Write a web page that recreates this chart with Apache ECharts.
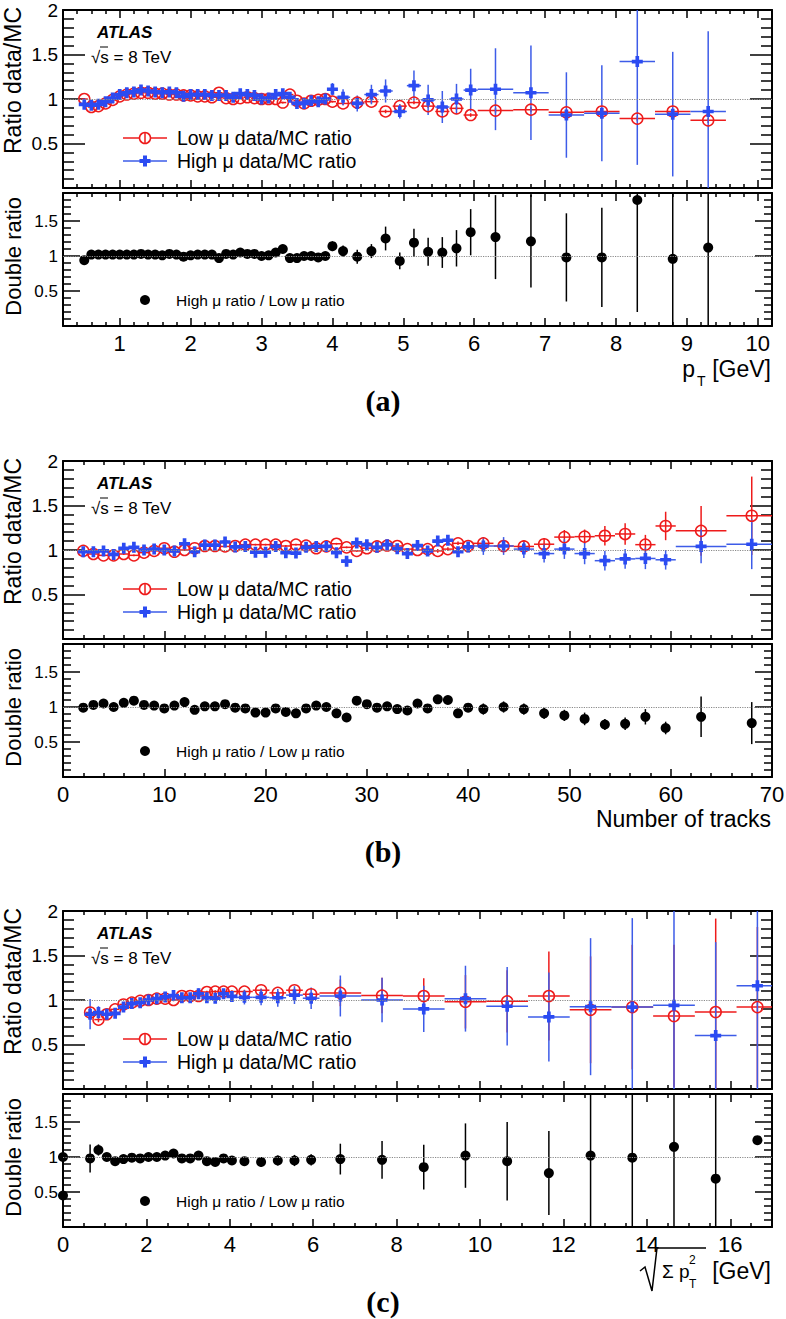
<!DOCTYPE html>
<html><head><meta charset="utf-8">
<script src="https://cdn.jsdelivr.net/npm/echarts@6/dist/echarts.min.js"></script>
<style>html,body{margin:0;padding:0;background:#fff}#c{width:786px;height:1319px}</style>
</head><body><div id="c"></div>
<script>
// ================= DATA =================
// ---- panel (a): pT ----
const aX = [0.5,0.6,0.7,0.8,0.9,1.0,1.1,1.2,1.3,1.4,1.5,1.6,1.7,1.8,1.9,2.0,2.1,2.2,2.3,2.4,2.5,2.6,2.7,2.8,2.9,3.0,3.1,3.2,3.3,3.4,3.5,3.6,3.7,3.8,3.9,4.0,
  4.15,4.35,4.55,4.75,4.95,5.15,5.35,5.55,5.75,5.95, 6.3,6.8,7.3,7.8,8.3,8.8,9.3];
const aXErr = [0.05,0.05,0.05,0.05,0.05,0.05,0.05,0.05,0.05,0.05,0.05,0.05,0.05,0.05,0.05,0.05,0.05,0.05,0.05,0.05,0.05,0.05,0.05,0.05,0.05,0.05,0.05,0.05,0.05,0.05,0.05,0.05,0.05,0.05,0.05,0.05,
  0.1,0.1,0.1,0.1,0.1,0.1,0.1,0.1,0.1,0.1, 0.25,0.25,0.25,0.25,0.25,0.25,0.25];
const aLow = [1.00,0.91,0.92,0.95,0.99,1.03,1.05,1.06,1.07,1.07,1.06,1.06,1.05,1.05,1.04,1.04,1.03,1.03,1.02,1.07,1.01,1.00,1.01,1.02,1.01,1.00,1.00,1.00,0.96,1.05,0.98,0.95,0.98,0.99,1.00,0.97,
  0.95,0.96,0.97,0.86,0.92,0.96,0.92,0.86,0.895,0.82, 0.87,0.88,0.85,0.86,0.78,0.86,0.76];
const aLowErr = [0.01,0.01,0.01,0.01,0.01,0.01,0.01,0.01,0.01,0.01,0.01,0.01,0.01,0.01,0.01,0.01,0.01,0.01,0.01,0.01,0.01,0.01,0.01,0.01,0.01,0.01,0.01,0.01,0.01,0.01,0.01,0.01,0.01,0.01,0.01,0.01,
  0.02,0.02,0.02,0.02,0.02,0.02,0.02,0.02,0.02,0.02, 0.03,0.03,0.03,0.03,0.03,0.03,0.03];
const aHigh = [0.94,0.93,0.94,0.97,1.01,1.05,1.07,1.08,1.10,1.09,1.08,1.07,1.08,1.07,1.03,1.05,1.05,1.05,1.04,1.04,1.04,1.02,1.06,1.05,1.04,1.00,1.01,1.05,1.06,1.02,0.95,0.95,0.98,0.97,1.00,1.11,
  1.02,0.95,1.05,1.09,0.86,1.15,0.99,0.91,1.00,1.10, 1.11,1.07,0.82,0.84,1.42,0.83,0.86];
const aHighErr = [0.015,0.015,0.015,0.015,0.015,0.015,0.015,0.015,0.015,0.015,0.015,0.015,0.015,0.015,0.015,0.015,0.015,0.015,0.015,0.015,0.015,0.015,0.015,0.015,0.015,0.015,
  0.03,0.03,0.03,0.03,0.03,0.03,0.03,0.03,0.03,0.07,
  0.09,0.09,0.11,0.13,0.08,0.17,0.17,0.18,0.17,0.24, 0.46,0.53,0.48,0.54,1.16,0.70,0.90];
const aDR = [0.94,1.02,1.02,1.02,1.02,1.02, 1.02,1.02,1.03,1.02,1.02,1.01,1.03,1.02,0.99,1.01, 1.02,1.02,1.02,0.97,1.03,1.02,1.05,1.03,1.03,1.00, 1.01,1.05,1.10,0.97,0.97,1.00,1.00,0.98,1.00,1.14,
  1.07,0.99,1.07,1.25,0.93,1.19,1.06,1.05,1.11,1.34, 1.27,1.21,0.98,0.98,1.80,0.96,1.12];
const aDRErr = [0.01,0.01,0.01,0.01,0.01,0.01,0.01,0.01,0.01,0.01,0.01,0.01,0.01,0.01,0.01,0.01,0.01,0.01,0.01,0.01,0.01,0.01,0.01,0.01,0.01,0.01,0.01,0.01,0.01,0.01,0.01,0.01,0.01,0.01,0.01,0.07,
  0.08,0.10,0.10,0.17,0.12,0.20,0.20,0.22,0.26,0.33, 0.60,0.66,0.63,0.71,1.60,1.00,1.20];

// ---- panel (b): number of tracks ----
const bX = [2,3,4,5,6,7,8,9,10,11,12,13,14,15,16,17,18,19,20,21,22,23,24,25,26,27,28,29,30,31,32,33,34,35,36,37,38,39,40,
  41.5,43.5,45.5,47.5,49.5,51.5,53.5,55.5,57.5,59.5,63,68];
const bXErr = [0.5,0.5,0.5,0.5,0.5,0.5,0.5,0.5,0.5,0.5,0.5,0.5,0.5,0.5,0.5,0.5,0.5,0.5,0.5,0.5,0.5,0.5,0.5,0.5,0.5,0.5,0.5,0.5,0.5,0.5,0.5,0.5,0.5,0.5,0.5,0.5,0.5,0.5,0.5,
  1,1,1,1,1,1,1,1,1,1,2.5,2.5];
const bLow = [0.99,0.955,0.94,0.94,0.955,0.94,0.97,0.99,1.02,0.98,1.0,1.02,1.045,1.045,1.04,1.045,1.06,1.06,1.06,1.06,1.045,1.06,1.05,1.02,1.04,1.07,1.03,0.99,1.02,1.04,1.05,1.045,1.01,1.0,1.01,0.99,1.01,1.075,1.045,
  1.075,1.045,1.04,1.065,1.145,1.15,1.16,1.18,1.06,1.27,1.215,1.385];
const bLowErr = [0.01,0.01,0.01,0.01,0.01,0.01,0.01,0.01,0.01,0.01,0.01,0.01,0.01,0.01,0.01,0.01,0.01,0.01,0.01,0.01,0.01,0.01,0.01,0.01,0.01,0.01,0.01,0.01,0.01,0.01,0.01,0.01,0.01,0.01,0.01,0.02,0.02,0.02,0.02,
  0.05,0.05,0.05,0.07,0.08,0.08,0.11,0.12,0.11,0.16,0.28,0.44];
const bHigh = [0.98,0.98,0.99,0.95,1.02,1.03,1.0,1.01,1.0,0.99,1.07,0.98,1.055,1.055,1.09,1.035,1.04,0.975,0.975,1.04,0.97,0.965,1.03,1.04,1.04,0.97,0.875,1.08,1.06,1.03,1.06,1.015,0.96,1.05,0.99,1.1,1.11,0.98,1.035,
  1.045,1.045,1.01,0.96,1.01,0.96,0.88,0.9,0.905,0.89,1.04,1.065];
const bHighErr = [0.02,0.02,0.02,0.02,0.02,0.02,0.02,0.02,0.02,0.02,0.02,0.02,0.02,0.02,0.02,0.02,0.02,0.02,0.02,0.02,0.02,0.02,0.02,0.02,0.02,0.02,0.02,0.02,0.02,0.03,0.03,0.03,0.03,0.03,0.03,0.05,0.05,0.05,0.05,
  0.10,0.10,0.10,0.10,0.11,0.12,0.11,0.11,0.12,0.11,0.19,0.28];
const bDR = [0.99,1.03,1.05,1.0,1.06,1.09,1.03,1.02,0.98,1.02,1.07,0.96,1.01,1.01,1.04,0.99,0.98,0.92,0.92,0.98,0.93,0.91,0.98,1.02,1.0,0.91,0.85,1.09,1.04,0.99,1.01,0.97,0.95,1.05,0.98,1.11,1.1,0.91,0.99,
  0.97,1.0,0.97,0.91,0.88,0.83,0.75,0.76,0.86,0.7,0.86,0.77];
const bDRErr = [0.01,0.01,0.01,0.01,0.01,0.01,0.01,0.01,0.01,0.01,0.01,0.01,0.01,0.01,0.01,0.01,0.01,0.01,0.01,0.01,0.01,0.01,0.01,0.01,0.01,0.01,0.01,0.01,0.01,0.01,0.01,0.01,0.01,0.01,0.01,0.04,0.04,0.03,0.03,
  0.08,0.08,0.08,0.08,0.08,0.09,0.08,0.09,0.11,0.09,0.29,0.30];

// ---- panel (c): sqrt(sum pT^2) ----
const cX = [0.65,0.85,1.05,1.25,1.45,1.65,1.85,2.05,2.25,2.45,2.65,2.85,3.05,3.25,3.45,3.65,3.85,4.05,
  4.35,4.75,5.15,5.55,5.95, 6.65,7.65,8.65,9.65,10.65,11.65,12.65,13.65,14.65,15.65,16.65];
const cXErr = [0.1,0.1,0.1,0.1,0.1,0.1,0.1,0.1,0.1,0.1,0.1,0.1,0.1,0.1,0.1,0.1,0.1,0.1, 0.2,0.2,0.2,0.2,0.2, 0.5,0.5,0.5,0.5,0.5,0.5,0.5,0.5,0.5,0.5,0.5];
const cLow = [0.86,0.78,0.84,0.895,0.95,0.97,0.99,1.0,1.015,1.015,1.0,1.045,1.045,1.045,1.09,1.095,1.095,1.095,
  1.095,1.11,1.08,1.11,1.065, 1.08,1.05,1.045,0.98,0.985,1.045,0.89,0.92,0.82,0.865,0.92];
const cLowErr = [0.05,0.03,0.015,0.015,0.015,0.015,0.015,0.015,0.015,0.015,0.015,0.015,0.015,0.015,0.015,0.015,0.015,0.015,
  0.02,0.02,0.02,0.02,0.02, 0.15,0.2,0.2,0.3,0.35,0.5,0.6,0.7,0.8,1.05,0.9];
const cHigh = [0.84,0.86,0.84,0.85,0.92,0.96,0.97,1.0,1.015,1.035,1.05,1.025,1.025,1.07,1.025,1.02,1.07,1.04,
  1.03,1.03,1.025,1.055,1.02, 1.045,1.0,0.9,1.015,0.93,0.81,0.925,0.92,0.94,0.6,1.16];
const cHighErr = [0.17,0.07,0.04,0.04,0.03,0.03,0.03,0.03,0.03,0.03,0.03,0.03,0.03,0.06,0.05,0.05,0.05,0.05,
  0.08,0.09,0.10,0.10,0.12, 0.23,0.25,0.26,0.37,0.44,0.5,0.77,1.0,1.2,1.05,1.2];
const cDrX = [0,0,0.65,0.85,1.05,1.25,1.45,1.65,1.85,2.05,2.25,2.45,2.65,2.85,3.05,3.25,3.45,3.65,3.85,4.05,
  4.35,4.75,5.15,5.55,5.95, 6.65,7.65,8.65,9.65,10.65,11.65,12.65,13.65,14.65,15.65,16.65];
const cDR = [1.0,0.45, 0.98,1.1,1.0,0.94,0.97,0.99,0.98,1.0,1.0,1.02,1.05,0.98,0.98,1.02,0.94,0.93,0.98,0.95,
  0.94,0.93,0.95,0.95,0.96, 0.97,0.96,0.855,1.02,0.94,0.77,1.02,0.99,1.145,0.69,1.24];
const cDRErr = [0,0, 0.2,0.08,0.02,0.02,0.02,0.02,0.02,0.02,0.02,0.02,0.02,0.02,0.02,0.02,0.02,0.02,0.02,0.02,
  0.06,0.07,0.07,0.08,0.08, 0.22,0.27,0.32,0.46,0.56,0.6,1.3,1.3,1.3,1.3,0];

// ---- tick labels ----
const aXTicks = [1,2,3,4,5,6,7,8,9,10];
const bXTicks = [0,10,20,30,40,50,60,70];
const cXTicks = [0,2,4,6,8,10,12,14,16];
const ratioTicks = [0.5,1,1.5,2];
const drTicks = [0.5,1,1.5];

// ================= STYLE / LAYOUT =================
const FONT = '"Liberation Sans", Arial, Helvetica, sans-serif';
const RED = '#ee1b1b', BLUE = '#2b4bf2', BLUE_ERR = '#3d5ce8';
const L = 63, GW = 709;

function steps(a, b, step, skip) {
  const out = [];
  for (let k = 0; ; k++) {
    const v = +(a + k * step).toFixed(6);
    if (v > b + 1e-9) break;
    if (!skip.some(s => Math.abs(s - v) < 1e-9)) out.push(v);
  }
  return out;
}

const grids = [], xAxes = [], yAxes = [], series = [], graphics = [];

function xAx(g, pos, min, max, vals, len, line, labels) {
  return {gridIndex: g, type: 'value', position: pos, min: min, max: max,
    axisLine: {show: line, onZero: false, lineStyle: {color: '#000', width: 2}},
    axisTick: {show: true, inside: true, length: len, customValues: vals, lineStyle: {color: '#000', width: 1.5}},
    axisLabel: labels ? {show: true, customValues: labels, margin: 6, color: '#000', fontSize: 22, fontFamily: FONT} : {show: false},
    splitLine: {show: false}, minorTick: {show: false}, axisPointer: {show: false}, silent: true};
}
function yAx(g, pos, min, max, vals, len, line, labels, fs) {
  return {gridIndex: g, type: 'value', position: pos, min: min, max: max,
    axisLine: {show: line, onZero: false, lineStyle: {color: '#000', width: 2}},
    axisTick: {show: true, inside: true, length: len, customValues: vals, lineStyle: {color: '#000', width: 1.5}},
    axisLabel: labels ? {show: true, customValues: labels, margin: 5, color: '#000', fontSize: fs, fontFamily: FONT} : {show: false},
    splitLine: {show: false}, minorTick: {show: false}, axisPointer: {show: false}, silent: true};
}

function errRender(color, horiz, xMin, xMax, yMin, yMax) {
  const cx = v => Math.max(xMin, Math.min(xMax, v));
  const cy = v => Math.max(yMin, Math.min(yMax, v));
  return function (params, api) {
    const x = api.value(0), y = api.value(1), ex = api.value(2), ey = api.value(3);
    const ch = [];
    if (ey > 0) {
      const p0 = api.coord([x, cy(y - ey)]), p1 = api.coord([x, cy(y + ey)]);
      ch.push({type: 'line', shape: {x1: p0[0], y1: p0[1], x2: p1[0], y2: p1[1]}, style: {stroke: color, lineWidth: 1.5}});
    }
    if (horiz && ex > 0) {
      const q0 = api.coord([cx(x - ex), y]), q1 = api.coord([cx(x + ex), y]);
      ch.push({type: 'line', shape: {x1: q0[0], y1: q0[1], x2: q1[0], y2: q1[1]}, style: {stroke: color, lineWidth: 1.5}});
    }
    return {type: 'group', children: ch};
  };
}

const CROSS = 'path://M4,0L8,0L8,4L12,4L12,8L8,8L8,12L4,12L4,8L0,8L0,4L4,4Z';
const dotted = {silent: true, symbol: 'none', label: {show: false}, lineStyle: {color: '#8a8a8a', type: 'dotted', width: 1.2}, data: [{yAxis: 1}], animation: false};

function txt(x, y, text, fs, opt) {
  const o = Object.assign({align: 'left', verticalAlign: 'middle', fontFamily: FONT, fontWeight: 'normal', fontStyle: 'normal'}, opt || {});
  return {type: 'text', x: x, y: y, rotation: o.rotation || 0, silent: true,
    style: {text: text, fontSize: fs, fontFamily: o.fontFamily, fontWeight: o.fontWeight, fontStyle: o.fontStyle, fill: '#000', align: o.align, verticalAlign: o.verticalAlign}};
}

function panel(off, cfg) {
  const gT = grids.length;
  grids.push({left: L, top: 10 + off, width: GW, height: 178, outerBoundsMode: 'none'});
  const gB = grids.length;
  grids.push({left: L, top: 193 + off, width: GW, height: 133, outerBoundsMode: 'none'});
  const xMinor = steps(cfg.xMin, cfg.xMax, cfg.xMinorStep, cfg.xTicks);
  // top pad axes
  const xT = xAxes.length;
  xAxes.push(xAx(gT, 'bottom', cfg.xMin, cfg.xMax, cfg.xTicks, 8, true, null));
  xAxes.push(xAx(gT, 'bottom', cfg.xMin, cfg.xMax, xMinor, 4, false, null));
  xAxes.push(xAx(gT, 'top', cfg.xMin, cfg.xMax, cfg.xTicks, 8, true, null));
  xAxes.push(xAx(gT, 'top', cfg.xMin, cfg.xMax, xMinor, 4, false, null));
  const yMajT = [0, 0.5, 1, 1.5, 2], yMinT = steps(0, 2, 0.1, yMajT);
  const yT = yAxes.length;
  yAxes.push(yAx(gT, 'left', 0, 2, yMajT, 22, true, ratioTicks, 19));
  yAxes.push(yAx(gT, 'left', 0, 2, yMinT, 11, false, null));
  yAxes.push(yAx(gT, 'right', 0, 2, yMajT, 22, true, null));
  yAxes.push(yAx(gT, 'right', 0, 2, yMinT, 11, false, null));
  // bottom pad axes
  const xB = xAxes.length;
  xAxes.push(xAx(gB, 'bottom', cfg.xMin, cfg.xMax, cfg.xTicks, 8, true, cfg.xTicks));
  xAxes.push(xAx(gB, 'bottom', cfg.xMin, cfg.xMax, xMinor, 4, false, null));
  xAxes.push(xAx(gB, 'top', cfg.xMin, cfg.xMax, cfg.xTicks, 8, true, null));
  xAxes.push(xAx(gB, 'top', cfg.xMin, cfg.xMax, xMinor, 4, false, null));
  const yMajB = [0.5, 1, 1.5], yMinB = steps(0.1, 1.8, 0.1, yMajB);
  const yB = yAxes.length;
  yAxes.push(yAx(gB, 'left', 0, 1.9, yMajB, 17, true, drTicks, 17));
  yAxes.push(yAx(gB, 'left', 0, 1.9, yMinB, 8, false, null));
  yAxes.push(yAx(gB, 'right', 0, 1.9, yMajB, 17, true, null));
  yAxes.push(yAx(gB, 'right', 0, 1.9, yMinB, 8, false, null));

  // series: low mu (red open circles)
  series.push({type: 'custom', xAxisIndex: xT, yAxisIndex: yT, silent: true, clip: false, encode: {x: 0, y: 1},
    renderItem: errRender(RED, true, cfg.xMin, cfg.xMax, 0, 2),
    data: cfg.x.map((v, i) => [v, cfg.low[i], cfg.xErr[i], cfg.lowErr[i]])});
  series.push({type: 'scatter', name: 'Low μ data/MC ratio', xAxisIndex: xT, yAxisIndex: yT, silent: true, clip: false,
    symbol: 'circle', symbolSize: 11, itemStyle: {color: 'rgba(255,255,255,0)', borderColor: RED, borderWidth: 1.5, opacity: 1},
    data: cfg.x.map((v, i) => [v, cfg.low[i]]), markLine: dotted});
  // high mu (blue crosses)
  series.push({type: 'custom', xAxisIndex: xT, yAxisIndex: yT, silent: true, clip: false, encode: {x: 0, y: 1},
    renderItem: errRender(BLUE_ERR, true, cfg.xMin, cfg.xMax, 0, 2),
    data: cfg.x.map((v, i) => [v, cfg.high[i], cfg.xErr[i], cfg.highErr[i]])});
  series.push({type: 'scatter', name: 'High μ data/MC ratio', xAxisIndex: xT, yAxisIndex: yT, silent: true, clip: false,
    symbol: CROSS, symbolSize: 11, itemStyle: {color: BLUE, opacity: 1},
    data: cfg.x.map((v, i) => [v, cfg.high[i]])});
  // double ratio
  series.push({type: 'custom', xAxisIndex: xB, yAxisIndex: yB, silent: true, clip: false, encode: {x: 0, y: 1},
    renderItem: errRender('#000', false, cfg.xMin, cfg.xMax, 0, 1.9),
    data: cfg.drX.map((v, i) => [v, cfg.dr[i], 0, cfg.drErr[i]])});
  series.push({type: 'scatter', name: 'High μ ratio / Low μ ratio', xAxisIndex: xB, yAxisIndex: yB, silent: true, clip: false,
    symbol: 'circle', symbolSize: 10, itemStyle: {color: '#000', opacity: 1},
    data: cfg.drX.map((v, i) => [v, cfg.dr[i]]), markLine: dotted});

  // texts
  graphics.push(txt(97, 32 + off, 'ATLAS', 17, {fontWeight: 'bold', fontStyle: 'italic'}));
  graphics.push(txt(91, 57 + off, '√s = 8 TeV', 17));
  graphics.push({type: 'line', silent: true, shape: {x1: 100, y1: 47 + off, x2: 108, y2: 47 + off}, style: {stroke: '#000', lineWidth: 1}});
  // legend (top pad)
  graphics.push({type: 'line', silent: true, shape: {x1: 123, y1: 138 + off, x2: 167, y2: 138 + off}, style: {stroke: RED, lineWidth: 1.5}});
  graphics.push({type: 'circle', silent: true, shape: {cx: 145, cy: 138 + off, r: 5.5}, style: {fill: '#fff', stroke: RED, lineWidth: 1.5}});
  graphics.push({type: 'line', silent: true, shape: {x1: 145, y1: 132.5 + off, x2: 145, y2: 143.5 + off}, style: {stroke: RED, lineWidth: 1.5}});
  graphics.push(txt(177, 138 + off, 'Low μ data/MC ratio', 19.5));
  graphics.push({type: 'line', silent: true, shape: {x1: 123, y1: 161 + off, x2: 167, y2: 161 + off}, style: {stroke: BLUE_ERR, lineWidth: 1.5}});
  graphics.push({type: 'polygon', silent: true, shape: {points: [[143, 155.5 + off], [147, 155.5 + off], [147, 159 + off], [150.5, 159 + off], [150.5, 163 + off], [147, 163 + off], [147, 166.5 + off], [143, 166.5 + off], [143, 163 + off], [139.5, 163 + off], [139.5, 159 + off], [143, 159 + off]]}, style: {fill: BLUE}});
  graphics.push(txt(177, 161 + off, 'High μ data/MC ratio', 19.5));
  // legend (bottom pad)
  graphics.push({type: 'circle', silent: true, shape: {cx: 145, cy: 300 + off, r: 5}, style: {fill: '#000'}});
  graphics.push(txt(176, 300 + off, 'High μ ratio / Low μ ratio', 15.5));
  // y titles
  graphics.push(txt(13, 7 + off, 'Ratio data/MC', 23, {rotation: Math.PI / 2, align: 'right'}));
  graphics.push(txt(13, 197 + off, 'Double ratio', 22, {rotation: Math.PI / 2, align: 'right'}));
  // panel label
  graphics.push(txt(383, 400 + off, cfg.label, 30, {align: 'center', fontFamily: '"Liberation Serif", "Times New Roman", serif', fontWeight: 'bold'}));
}

panel(0, {x: aX, xErr: aXErr, low: aLow, lowErr: aLowErr, high: aHigh, highErr: aHighErr, drX: aX, dr: aDR, drErr: aDRErr,
  xMin: 0.2, xMax: 10.2, xTicks: aXTicks, xMinorStep: 0.2, label: '(a)'});
panel(451, {x: bX, xErr: bXErr, low: bLow, lowErr: bLowErr, high: bHigh, highErr: bHighErr, drX: bX, dr: bDR, drErr: bDRErr,
  xMin: 0, xMax: 70, xTicks: bXTicks, xMinorStep: 2, label: '(b)'});
panel(901, {x: cX, xErr: cXErr, low: cLow, lowErr: cLowErr, high: cHigh, highErr: cHighErr, drX: cDrX, dr: cDR, drErr: cDRErr,
  xMin: 0, xMax: 17, xTicks: cXTicks, xMinorStep: 0.5, label: '(c)'});

// x-axis titles
graphics.push(txt(695, 369, 'p', 23, {align: 'right'}));
graphics.push(txt(697, 381, 'T', 14));
graphics.push(txt(771, 369, '[GeV]', 23, {align: 'right'}));
graphics.push(txt(771, 819, 'Number of tracks', 23, {align: 'right'}));
graphics.push({type: 'polyline', silent: true, shape: {points: [[640, 1271], [645, 1267], [652, 1291], [657, 1248], [706, 1248]]}, style: {stroke: '#000', lineWidth: 1.5, fill: null}});
graphics.push(txt(662, 1271, 'Σ p', 19));
graphics.push(txt(689, 1260, '2', 12));
graphics.push(txt(689, 1284, 'T', 12));
graphics.push(txt(771, 1271, '[GeV]', 23, {align: 'right'}));

const chart = echarts.init(document.getElementById('c'), null, {renderer: 'svg', width: 786, height: 1319});
chart.setOption({
  animation: false,
  backgroundColor: '#fff',
  textStyle: {fontFamily: FONT},
  grid: grids, xAxis: xAxes, yAxis: yAxes, series: series,
  graphic: {elements: graphics}
});
</script>
</body></html>
